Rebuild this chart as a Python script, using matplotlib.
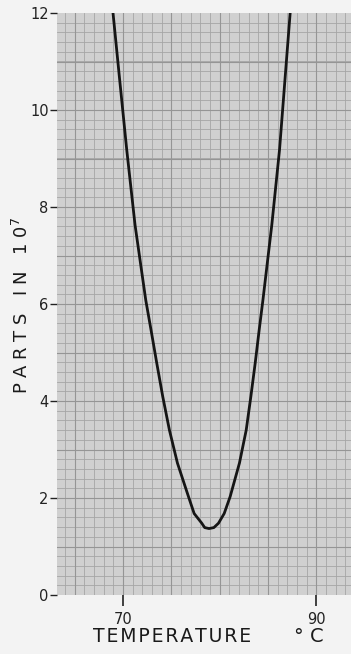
import numpy as np
import matplotlib
matplotlib.use("Agg")
import matplotlib.pyplot as plt
from matplotlib.ticker import MultipleLocator

# curve (temperature in C, parts in 10^7)
temp = [68.96, 69.6, 70.38, 71.24, 72.35, 72.9, 73.49, 74.11, 74.8, 75.63,
        76.77, 77.36, 78.15, 78.45, 78.9, 79.4, 79.88, 80.47, 81.09, 82.05,
        82.75, 83.23, 83.68, 84.09, 84.48, 85.4, 86.2, 86.8, 87.3]
parts = [12.0, 10.72, 9.18, 7.63, 6.08, 5.46, 4.78, 4.09, 3.40, 2.72,
         2.03, 1.68, 1.48, 1.39, 1.37, 1.39, 1.48, 1.68, 2.03, 2.72,
         3.40, 4.09, 4.78, 5.46, 6.08, 7.63, 9.18, 10.72, 12.0]

xticks = [70, 90]
yticks = [0, 2, 4, 6, 8, 10, 12]

fig = plt.figure(figsize=(3.51, 6.54), dpi=100, facecolor="#f3f3f3")
ax = fig.add_axes([57/351, 1 - 595/654, 1 - 57/351, (595 - 13)/654])
ax.set_facecolor("#d0d0d0")

ax.set_xlim(63.16, 93.6)
ax.set_ylim(0, 12)

# graph paper grid
ax.xaxis.set_minor_locator(MultipleLocator(1))
ax.yaxis.set_minor_locator(MultipleLocator(0.2))
ax.grid(which="minor", color="#a6a6a6", lw=0.6)
for v in np.arange(65, 94, 5):
    ax.axvline(v, color="#959595", lw=0.8, zorder=1)
for v in np.arange(1, 12, 1):
    ax.axhline(v, color="#959595", lw=0.8, zorder=1)
ax.set_axisbelow(True)

ax.plot(temp, parts, color="#151515", lw=2.0, solid_joinstyle="round", zorder=3)

for s in ax.spines.values():
    s.set_visible(False)

ax.set_xticks(xticks)
ax.set_yticks(yticks)
ax.tick_params(which="minor", length=0)
ax.tick_params(axis="y", length=5, width=1, color="#222222", pad=1,
               labelsize=10.5, labelcolor="#222222")
ax.tick_params(axis="x", length=8, width=1.2, color="#222222", pad=4,
               labelsize=10.5, labelcolor="#222222")

fig.text(172/351, 1 - 636/654, "\u200a".join("TEMPERATURE"), ha="center",
         va="center", fontsize=13.5, color="#1a1a1a")
fig.text(309/351, 1 - 636/654, "° C", ha="center", va="center",
         fontsize=14, color="#1a1a1a")
fig.text(22/351, 1 - 305/654, r"P A R T S   I N   1 0$^{7}$", rotation=90,
         ha="center", va="center", fontsize=13, color="#1a1a1a")

fig.savefig("out.png", dpi=100, facecolor=fig.get_facecolor())
